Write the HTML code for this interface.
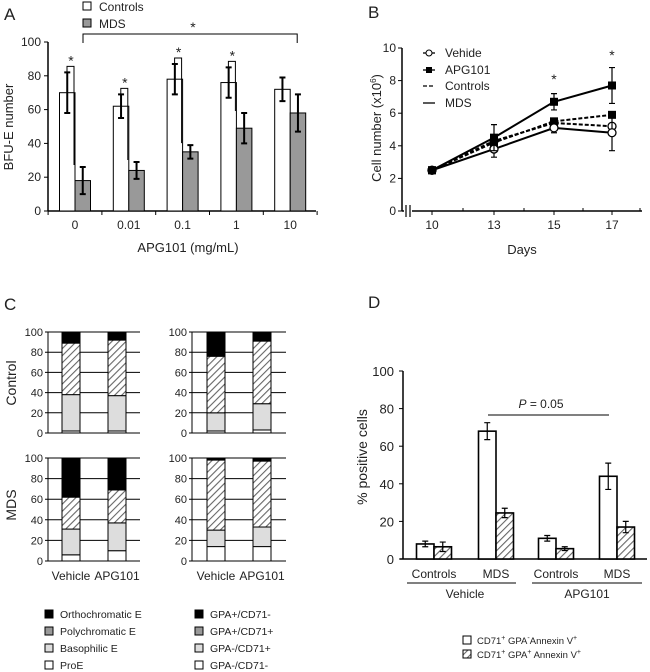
<!DOCTYPE html>
<html><head><meta charset="utf-8">
<style>
html,body{margin:0;padding:0;background:#fff;}
svg{display:block;font-family:"Liberation Sans",Arial,sans-serif;}
text{fill:#222;}
</style></head>
<body>
<svg id="fig" width="650" height="672" viewBox="0 0 650 672">
<defs>
<pattern id="hatch" patternUnits="userSpaceOnUse" width="5" height="5" patternTransform="rotate(45)">
<rect width="5" height="5" fill="#fff"/>
<line x1="0" y1="0" x2="0" y2="5" stroke="#666" stroke-width="2.2"/>
</pattern>
</defs>
</svg>
<script>
// ---------- Panel A data ----------
const aCategories = ["0","0.01","0.1","1","10"];
const aControls = [70,62,78,76,72];
const aControlsErr = [12,7,9,9,7];
const aMDS = [18,24,35,49,58];
const aMDSErr = [8,5,4,9,11];
const aTicks = [0,20,40,60,80,100];
// ---------- Panel B data ----------
const bDays = [10,13,15,17];
const bCtrlVehicle = [2.5,4.3,5.4,5.2];
const bCtrlAPG = [2.5,4.2,5.5,5.9];
const bMDSVehicle = [2.5,3.8,5.1,4.8];
const bMDSVehicleErr = [0,0.5,0.3,1.1];
const bMDSAPG = [2.5,4.5,6.7,7.7];
const bMDSAPGErr = [0,0.8,0.5,1.1];
const bTicks = [0,2,4,6,8,10];
// ---------- Panel C data (cumulative tops: ProE, Basophilic, Polychromatic, Orthochromatic) ----------
const cGroups = ["Vehicle","APG101"];
const cCtrlMorph = [[2,38,89,100],[2,37,92,100]];
const cCtrlFlow = [[2,20,76,100],[3,29,91,100]];
const cMDSMorph = [[6,31,62,100],[10,37,69,100]];
const cMDSFlow = [[14,30,98,100],[14,33,97,100]];
const cTicks = [0,20,40,60,80,100];
// ---------- Panel D data ----------
const dCategories = ["Controls","MDS","Controls","MDS"];
const dNeg = [8,68,11,44];
const dNegErr = [1.5,4.5,1.5,7];
const dPos = [6.5,24.5,5.5,17];
const dPosErr = [2.5,2.5,1,3];
const dTicks = [0,20,40,60,80,100];

const svg = document.getElementById('fig');
const NS = 'http://www.w3.org/2000/svg';
function mk(tag, attrs, parent){const e=document.createElementNS(NS,tag);for(const k in attrs)e.setAttribute(k,attrs[k]);(parent||svg).appendChild(e);return e;}
function txt(s, attrs){const e=mk('text',attrs);e.textContent=s;return e;}
let el;

// ================= PANEL A =================
const ay = v => 211 - v*1.69;
const ax = i => 75 + i*53.8;
el = txt('A',{x:4,y:20,'font-size':17});


el = mk('line',{x1:48,y1:42,x2:48,y2:211,stroke:'#000','stroke-width':1.5});


el = mk('line',{x1:48,y1:211,x2:316,y2:211,stroke:'#000','stroke-width':1.5});


aTicks.forEach(t=>{
  el = mk('line',{x1:44,y1:ay(t),x2:48,y2:ay(t),stroke:'#000'});
  
  
  el = txt(String(t),{x:41,y:ay(t)+4,'font-size':12,'text-anchor':'end'});
  
  
});
for(let i=0;i<=5;i++){
  el = mk('line',{x1:ax(i)-26.9,y1:211,x2:ax(i)-26.9,y2:215,stroke:'#000'});
  
  
}
aCategories.forEach((c,i)=>{
  const cx=ax(i), w=15.5;
  el = mk('rect',{x:cx-w,y:ay(aControls[i]),width:w,height:211-ay(aControls[i]),fill:'#fff',stroke:'#000'});
  
  
  el = mk('rect',{x:cx,y:ay(aMDS[i]),width:w,height:211-ay(aMDS[i]),fill:'#999',stroke:'#000'});
  
  
  [[cx-w/2,aControls[i],aControlsErr[i]],[cx+w/2,aMDS[i],aMDSErr[i]]].forEach(([x,v,e])=>{
    el = mk('path',{d:`M${x} ${ay(v+e)}V${ay(v-e)}M${x-3} ${ay(v+e)}h6M${x-3} ${ay(v-e)}h6`,stroke:'#000','stroke-width':2,fill:'none'});
    
    
  });
  el = txt(c,{x:cx,y:229,'font-size':12,'text-anchor':'middle'});
  
  
  if(i<4){
    const top = aControls[i]+aControlsErr[i];
    const by = ay(top)-6;
    el = mk('path',{d:`M${cx-8} ${ay(top)+2}V${by}H${cx-1}V${ay(aMDS[i]+aMDSErr[i])-2}`,stroke:'#000','stroke-width':1,fill:'none'});
    
    
    el = txt('*',{x:cx-4,y:by-1,'font-size':14,'text-anchor':'middle'});
    
    
  }
});
el = mk('path',{d:`M${ax(0)+8} 43V34H${ax(4)+7}V43`,stroke:'#000','stroke-width':1,fill:'none'});


el = txt('*',{x:193,y:32,'font-size':14,'text-anchor':'middle'});


el = txt('APG101 (mg/mL)',{x:188,y:252,'font-size':13,'text-anchor':'middle'});


el = txt('BFU-E number',{x:0,y:0,'font-size':13,'text-anchor':'middle',transform:'translate(13,127) rotate(-90)'});


el = mk('rect',{x:83,y:2,width:8,height:8,fill:'#fff',stroke:'#000'});


el = txt('Controls',{x:99,y:11,'font-size':12});


el = mk('rect',{x:83,y:19,width:8,height:8,fill:'#999',stroke:'#000'});


el = txt('MDS',{x:99,y:28,'font-size':12});



// ================= PANEL B =================
const by_ = v => 211 - v*16.3;
const dayPos = {10:432,13:494,15:554,17:612};
const bx = d => dayPos[d];
el = txt('B',{x:368,y:18,'font-size':17});


el = mk('line',{x1:402,y1:48,x2:402,y2:211,stroke:'#000','stroke-width':1.5});


el = mk('path',{d:'M402 211H404M412 211H642',stroke:'#000','stroke-width':1.5,fill:'none'});


el = mk('path',{d:'M406 205V217M410 205V217',stroke:'#000','stroke-width':1.2});


bTicks.forEach(t=>{
  el = mk('line',{x1:398,y1:by_(t),x2:402,y2:by_(t),stroke:'#000'});
  
  
  el = txt(String(t),{x:396,y:by_(t)+4,'font-size':12,'text-anchor':'end'});
  
  
});
[463,524,583,640].forEach(x=>{
  el = mk('line',{x1:x,y1:211,x2:x,y2:208,stroke:'#000'});
  
  
});
bDays.forEach(d=>{
  el = mk('line',{x1:bx(d),y1:211,x2:bx(d),y2:215,stroke:'#000'});
  
  
  el = txt(String(d),{x:bx(d),y:229,'font-size':12,'text-anchor':'middle'});
  
  
});
function bSeries(vals, errs, dashed, filled, name){
  const pts = bDays.map((d,i)=>`${bx(d)},${by_(vals[i])}`).join(' ');
  let e = mk('polyline',{points:pts,fill:'none',stroke:'#000','stroke-width':2,'stroke-dasharray':dashed?'4,2':'none'});
  
  
  bDays.forEach((d,i)=>{
    if(errs && errs[i]>0){
      const x=bx(d);
      e = mk('path',{d:`M${x} ${by_(vals[i]+errs[i])}V${by_(vals[i]-errs[i])}M${x-3} ${by_(vals[i]+errs[i])}h6M${x-3} ${by_(vals[i]-errs[i])}h6`,stroke:'#000','stroke-width':1.2,fill:'none'});
      
      
    }
    if(filled){
      e = mk('rect',{x:bx(d)-4,y:by_(vals[i])-4,width:8,height:8,fill:'#000'});
    } else {
      e = mk('circle',{cx:bx(d),cy:by_(vals[i]),r:4,fill:'#fff',stroke:'#000','stroke-width':1.3});
    }
    
    
  });
}
bSeries(bCtrlVehicle,null,true,false,'b-controls-vehicle');
bSeries(bCtrlAPG,null,true,true,'b-controls-apg101');
bSeries(bMDSVehicle,bMDSVehicleErr,false,false,'b-mds-vehicle');
bSeries(bMDSAPG,bMDSAPGErr,false,true,'b-mds-apg101');
el = txt('*',{x:bx(15),y:84,'font-size':14,'text-anchor':'middle'});


el = txt('*',{x:bx(17),y:60,'font-size':14,'text-anchor':'middle'});


el = txt('Days',{x:522,y:254,'font-size':13,'text-anchor':'middle'});


el = txt('',{x:0,y:0,'font-size':13,'text-anchor':'middle',transform:'translate(381,128) rotate(-90)'});
el.innerHTML = 'Cell number (x10<tspan dy="-5" font-size="8">6</tspan><tspan dy="5">)</tspan>';


// legend
el = mk('line',{x1:423,y1:53,x2:435,y2:53,stroke:'#000','stroke-width':1.3});


el = mk('circle',{cx:429,cy:53,r:3,fill:'#fff',stroke:'#000'});


el = txt('Vehide',{x:445,y:57,'font-size':12});


el = mk('line',{x1:423,y1:70,x2:435,y2:70,stroke:'#000','stroke-width':1.3});


el = mk('rect',{x:426,y:67,width:6,height:6,fill:'#000'});


el = txt('APG101',{x:445,y:74,'font-size':12});


el = mk('line',{x1:423,y1:86,x2:435,y2:86,stroke:'#000','stroke-width':1.3,'stroke-dasharray':'4,2'});


el = txt('Controls',{x:445,y:90,'font-size':12});


el = mk('line',{x1:423,y1:103,x2:435,y2:103,stroke:'#000','stroke-width':1.3});


el = txt('MDS',{x:445,y:107,'font-size':12});



// ================= PANEL C =================
el = txt('C',{x:4,y:310,'font-size':17});


const cFills = ['#fff','#ddd','url(#hatch)','#000'];
function cChart(data, axX, rightX, top, bottom, barXs, name){
  const sy = v => bottom - v*(bottom-top)/100;
  cTicks.forEach(t=>{
    let e = mk('line',{x1:axX-3,y1:sy(t),x2:rightX,y2:sy(t),stroke:'#000','stroke-width':1});
    
    
    e = txt(String(t),{x:axX-5,y:sy(t)+4,'font-size':11,'text-anchor':'end'});
    
    
  });
  let e = mk('line',{x1:axX,y1:top,x2:axX,y2:bottom,stroke:'#000'});
  
  
  data.forEach((stack,bi)=>{
    let prev=0;
    stack.forEach((v,si)=>{
      const r = mk('rect',{x:barXs[bi],y:sy(v),width:18,height:sy(prev)-sy(v),fill:cFills[si],stroke:'#000','stroke-width':1});
      
      
      prev=v;
    });
  });
}
cChart(cCtrlMorph,48,140,332,433,[62,108],'c-control-morphology');
cChart(cCtrlFlow,192,286,332,433,[207,253],'c-control-flow');
cChart(cMDSMorph,48,140,458,561,[62,108],'c-mds-morphology');
cChart(cMDSFlow,192,286,458,561,[207,253],'c-mds-flow');
[[71,'Vehicle'],[117,'APG101'],[216,'Vehicle'],[262,'APG101']].forEach(([x,s])=>{
  el = txt(s,{x:x,y:580,'font-size':12,'text-anchor':'middle'});
  
  
});
el = txt('Control',{x:0,y:0,'font-size':14,'text-anchor':'middle',transform:'translate(16,383) rotate(-90)'});


el = txt('MDS',{x:0,y:0,'font-size':14,'text-anchor':'middle',transform:'translate(16,505) rotate(-90)'});


const cLegL = ['Orthochromatic E','Polychromatic E','Basophilic E','ProE'];
const cLegR = ['GPA+/CD71-','GPA+/CD71+','GPA-/CD71+','GPA-/CD71-'];
const cLegFill = ['#000','#999','#ddd','#fff'];
cLegL.forEach((s,i)=>{
  const y=610+i*17;
  el = mk('rect',{x:45,y:y,width:8,height:8,fill:cLegFill[i],stroke:'#000'});
  
  
  el = txt(s,{x:60,y:y+8,'font-size':10.5});
  
  
  el = mk('rect',{x:195,y:y,width:8,height:8,fill:cLegFill[i],stroke:'#000'});
  
  
  el = txt(cLegR[i],{x:210,y:y+8,'font-size':10.5});
  
  
});

// ================= PANEL D =================
const dy = v => 559 - v*1.88;
const dCenters = [434,496,556,617];
el = txt('D',{x:368,y:308,'font-size':17});


el = mk('line',{x1:403,y1:371,x2:403,y2:559,stroke:'#000','stroke-width':1.5});


el = mk('line',{x1:400,y1:559,x2:647,y2:559,stroke:'#000','stroke-width':1.5});


dTicks.forEach(t=>{
  el = mk('line',{x1:399,y1:dy(t),x2:403,y2:dy(t),stroke:'#000'});
  
  
  el = txt(String(t),{x:394,y:dy(t)+5,'font-size':13,'text-anchor':'end'});
  
  
});
dCategories.forEach((c,i)=>{
  const cx=dCenters[i], w=17.5;
  el = mk('rect',{x:cx-w,y:dy(dNeg[i]),width:w,height:559-dy(dNeg[i]),fill:'#fff',stroke:'#000','stroke-width':1.6});
  
  
  el = mk('rect',{x:cx,y:dy(dPos[i]),width:w,height:559-dy(dPos[i]),fill:'url(#hatch)',stroke:'#000','stroke-width':1.6});
  
  
  [[cx-w/2,dNeg[i],dNegErr[i]],[cx+w/2,dPos[i],dPosErr[i]]].forEach(([x,v,e])=>{
    el = mk('path',{d:`M${x} ${dy(v+e)}V${dy(v-e)}M${x-3} ${dy(v+e)}h6M${x-3} ${dy(v-e)}h6`,stroke:'#000','stroke-width':1.2,fill:'none'});
    
    
  });
  el = txt(c,{x:cx,y:578,'font-size':12,'text-anchor':'middle'});
  
  
});
el = mk('path',{d:'M407 583H516M532 583H642',stroke:'#000','stroke-width':1});


el = txt('Vehicle',{x:465,y:598,'font-size':12,'text-anchor':'middle'});


el = txt('APG101',{x:587,y:598,'font-size':12,'text-anchor':'middle'});


el = mk('line',{x1:488,y1:415,x2:609,y2:415,stroke:'#000'});


el = txt('',{x:541,y:408,'font-size':12,'text-anchor':'middle'});
el.innerHTML = '<tspan font-style="italic">P</tspan> = 0.05';


el = txt('% positive cells',{x:0,y:0,'font-size':14,'text-anchor':'middle',transform:'translate(367,457) rotate(-90)'});


el = mk('rect',{x:463,y:636,width:8,height:8,fill:'#fff',stroke:'#000'});


el = txt('',{x:477,y:644,'font-size':9.5});
el.innerHTML = 'CD71<tspan dy="-4" font-size="7">+</tspan><tspan dy="4"> GPA</tspan><tspan dy="-4" font-size="7">-</tspan><tspan dy="4">Annexin V</tspan><tspan dy="-4" font-size="7">+</tspan>';


el = mk('rect',{x:463,y:650,width:8,height:8,fill:'url(#hatch)',stroke:'#000'});


el = txt('',{x:477,y:658,'font-size':9.5});
el.innerHTML = 'CD71<tspan dy="-4" font-size="7">+</tspan><tspan dy="4"> GPA</tspan><tspan dy="-4" font-size="7">+</tspan><tspan dy="4"> Annexin V</tspan><tspan dy="-4" font-size="7">+</tspan>';


</script>
</body></html>
